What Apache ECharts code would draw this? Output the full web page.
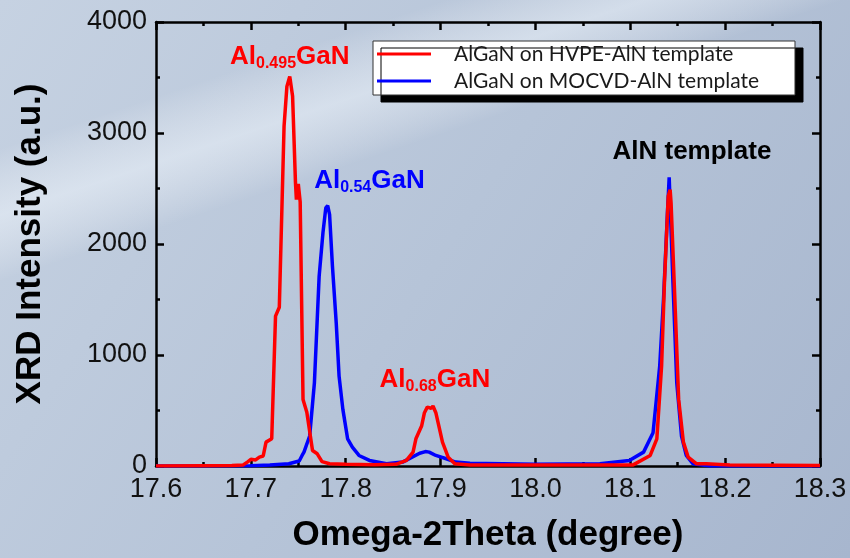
<!DOCTYPE html>
<html>
<head>
<meta charset="utf-8">
<script src="https://cdn.jsdelivr.net/npm/echarts@6/dist/echarts.min.js"></script>
<style>
  html, body { margin: 0; padding: 0; }
  #chart { width: 850px; height: 558px; }
</style>
</head>
<body>
<div id="chart"></div>
<script>
// XRD omega-2theta scans
const hvpeAngle = [17.600, 17.650, 17.680, 17.692, 17.697, 17.700, 17.705, 17.709, 17.713, 17.716, 17.722, 17.726, 17.730,
  17.735, 17.738, 17.741, 17.744, 17.747, 17.748, 17.750, 17.752, 17.755, 17.759, 17.765, 17.770, 17.775, 17.783, 17.800,
  17.830, 17.853, 17.864, 17.871, 17.874, 17.880, 17.883, 17.886, 17.888, 17.890, 17.892, 17.895, 17.899, 17.902, 17.908,
  17.915, 17.931, 18.000, 18.060, 18.103, 18.121, 18.128, 18.133, 18.136, 18.140, 18.142, 18.143, 18.147, 18.151, 18.156,
  18.161, 18.170, 18.180, 18.205, 18.300]
const hvpeIntensity = [0, 3, 5, 10, 40, 60, 55, 80, 90, 215, 245, 1350, 1430,
  3060, 3420, 3510, 3330, 2560, 2400, 2540, 2380, 600, 485, 140, 110, 40, 20, 15,
  12, 15, 50, 125, 245, 360, 480, 530, 545, 520, 540, 480, 330, 215, 80,
  20, 10, 8, 8, 10, 95, 245, 900, 1650, 2430, 2490, 2370, 1500, 600, 215,
  80, 20, 20, 8, 5]

const mocvdAngle = [17.600, 17.700, 17.720, 17.740, 17.751, 17.754, 17.756, 17.762, 17.767, 17.772, 17.776, 17.779, 17.781,
  17.783, 17.786, 17.790, 17.793, 17.797, 17.802, 17.807, 17.814, 17.825, 17.843, 17.860, 17.870, 17.878, 17.884, 17.888,
  17.895, 17.906, 17.916, 17.931, 18.000, 18.068, 18.099, 18.114, 18.124, 18.131, 18.135, 18.139, 18.141, 18.143, 18.145,
  18.149, 18.154, 18.159, 18.166, 18.184, 18.300]
const mocvdIntensity = [0, 3, 8, 20, 45, 95, 125, 270, 750, 1710, 2100, 2325, 2345,
  2265, 1800, 1290, 810, 510, 245, 170, 95, 50, 20, 35, 80, 115, 130, 125,
  95, 65, 35, 25, 15, 20, 50, 125, 300, 900, 1500, 2250, 2600, 2595, 1650,
  750, 270, 95, 20, 0, 0]

const seriesNames = ['AlGaN on HVPE-AlN template', 'AlGaN on MOCVD-AlN template']
const xTicks = { min: 17.6, max: 18.3, interval: 0.1 }
const yTicks = { min: 0, max: 4000, interval: 1000 }

// peak labels: [angle, intensity, text, colour]
const peakLabels = [
  [17.741, 3690, '{m|Al}{s|0.495}{m|GaN}', '#ff0000'],
  [17.825, 2570, '{m|Al}{s|0.54}{m|GaN}', '#0000ff'],
  [17.894, 775, '{m|Al}{s|0.68}{m|GaN}', '#ff0000'],
  [18.165, 2830, '{m|AlN template}', '#000000'],
]

const zip = (xs, ys) => xs.map((x, i) => [x, ys[i]])

const chart = echarts.init(document.getElementById('chart'))

const axisLine = { show: true, onZero: false, lineStyle: { color: '#000', width: 2.5 } }
const tickLabel = { fontFamily: 'Liberation Sans, Arial', fontSize: 27, color: '#111' }
const ticks = { inside: true, length: 8, lineStyle: { color: '#000', width: 2.5 } }
const minor = { show: true, splitNumber: 2, length: 4, lineStyle: { color: '#000', width: 2.5 } }

chart.setOption({
  backgroundColor: new echarts.graphic.LinearGradient(0, 0, 1, 1, [
    { offset: 0, color: '#c6d2e2' },
    { offset: 0.5, color: '#b6c4d8' },
    { offset: 1, color: '#a7b6ce' },
  ]),
  animation: false,
  graphic: [{
    type: 'rect',
    silent: true,
    z: -10,
    shape: { x: 0, y: 0, width: 850, height: 558 },
    style: {
      fill: new echarts.graphic.LinearGradient(280, 55, 320, 175, [
        { offset: 0, color: 'rgba(255,255,255,0)' },
        { offset: 0.5, color: 'rgba(240,246,252,0.5)' },
        { offset: 1, color: 'rgba(255,255,255,0)' },
      ], true),
    },
  }],
  grid: { left: 156, right: 30, top: 22, bottom: 91 },
  legend: {
    data: seriesNames,
    orient: 'vertical',
    left: 373,
    top: 41,
    icon: 'rect',
    itemWidth: 54,
    itemHeight: 3,
    itemGap: 3,
    padding: [1, 36, 2, 4],
    backgroundColor: '#fff',
    borderColor: '#333',
    borderWidth: 1,
    shadowColor: '#000',
    shadowOffsetX: 8,
    shadowOffsetY: 7,
    shadowBlur: 0,
    textStyle: { fontFamily: 'Lato', fontSize: 21, lineHeight: 24, color: '#1a1a1a', padding: [0, 0, 0, 18] },
  },
  xAxis: [{
    type: 'value',
    position: 'bottom',
    ...xTicks,
    name: 'Omega-2Theta (degree)',
    nameLocation: 'middle',
    nameGap: 52,
    nameTextStyle: { fontFamily: 'Liberation Sans, Arial', fontWeight: 'bold', fontSize: 35, color: '#000' },
    axisLine,
    axisTick: ticks,
    minorTick: minor,
    axisLabel: { ...tickLabel, margin: 10, formatter: (v) => v.toFixed(1) },
    splitLine: { show: false },
  }, {
    type: 'value',
    position: 'top',
    ...xTicks,
    axisLine,
    axisTick: ticks,
    minorTick: minor,
    axisLabel: { show: false },
    splitLine: { show: false },
  }],
  yAxis: [{
    type: 'value',
    position: 'left',
    ...yTicks,
    name: 'XRD Intensity (a.u.)',
    nameLocation: 'middle',
    nameGap: 108,
    nameTextStyle: { fontFamily: 'Liberation Sans, Arial', fontWeight: 'bold', fontSize: 35, color: '#000' },
    axisLine,
    axisTick: ticks,
    minorTick: minor,
    axisLabel: { ...tickLabel, margin: 9, formatter: (v) => String(v) },
    splitLine: { show: false },
  }, {
    type: 'value',
    position: 'right',
    ...yTicks,
    axisLine,
    axisTick: ticks,
    minorTick: minor,
    axisLabel: { show: false },
    splitLine: { show: false },
  }],
  series: [{
    name: seriesNames[1],
    type: 'line',
    data: zip(mocvdAngle, mocvdIntensity),
    symbol: 'none',
    lineStyle: { color: '#0000ff', width: 3.5 },
    itemStyle: { color: '#0000ff' },
    z: 3,
  }, {
    name: seriesNames[0],
    type: 'line',
    data: zip(hvpeAngle, hvpeIntensity),
    symbol: 'none',
    lineStyle: { color: '#ff0000', width: 3.5 },
    itemStyle: { color: '#ff0000' },
    z: 4,
    markPoint: {
      symbol: 'circle',
      symbolSize: 1,
      itemStyle: { color: 'rgba(0,0,0,0)' },
      data: peakLabels.map(([x, y, text, color]) => ({
        coord: [x, y],
        label: {
          show: true,
          position: 'inside',
          formatter: text,
          rich: {
            m: { fontFamily: 'Liberation Sans, Arial', fontWeight: 'bold', fontSize: 26, color, lineHeight: 30, verticalAlign: 'middle' },
            s: { fontFamily: 'Liberation Sans, Arial', fontWeight: 'bold', fontSize: 16, color, lineHeight: 16, verticalAlign: 'bottom' },
          },
        },
      })),
    },
  }],
})
</script>
</body>
</html>
